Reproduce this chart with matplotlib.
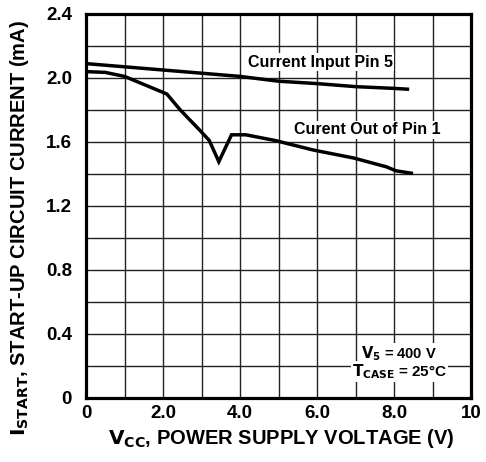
import matplotlib
matplotlib.use("Agg")
import matplotlib.pyplot as plt

plt.rcParams['font.family'] = ['Liberation Sans', 'DejaVu Sans']
plt.rcParams['font.weight'] = 'bold'
plt.rcParams['mathtext.default'] = 'bf'

# current into pin 5 (upper curve)
pin5_v = [0.0, 1.0, 2.0, 3.0, 4.0, 5.0, 6.0, 7.0, 8.0, 8.35]
pin5_i = [2.09, 2.07, 2.05, 2.03, 2.01, 1.98, 1.965, 1.946, 1.935, 1.93]

# current out of pin 1 (lower curve)
pin1_v = [0.0, 0.5, 1.0, 1.5, 2.1, 2.45, 2.95, 3.2, 3.45, 3.78, 4.15, 4.9, 5.9, 6.95, 7.8, 8.05, 8.45]
pin1_i = [2.04, 2.035, 2.01, 1.96, 1.90, 1.80, 1.675, 1.61, 1.477, 1.645, 1.645, 1.61, 1.55, 1.50, 1.445, 1.42, 1.405]

xticks = [0, 2, 4, 6, 8, 10]
xticklabels = ['0', '2.0', '4.0', '6.0', '8.0', '10']
yticks = [0, 0.4, 0.8, 1.2, 1.6, 2.0, 2.4]
yticklabels = ['0', '0.4', '0.8', '1.2', '1.6', '2.0', '2.4']

fig = plt.figure(figsize=(4.86, 4.62), dpi=100)
ax = fig.add_axes([86 / 486, 1 - 398 / 462, 385 / 486, 384 / 462])

ax.plot(pin5_v, pin5_i, color='black', lw=2.5, solid_joinstyle='miter')
ax.plot(pin1_v, pin1_i, color='black', lw=2.5, solid_joinstyle='miter')

ax.set_xlim(0, 10)
ax.set_ylim(0, 2.4)
ax.set_xticks(range(0, 11), minor=True)
ax.set_yticks([i * 0.2 for i in range(13)], minor=True)
ax.set_xticks(xticks)
ax.set_xticklabels(xticklabels, fontsize=13.5, fontweight='bold')
ax.set_yticks(yticks)
ax.set_yticklabels(yticklabels, fontsize=13.5, fontweight='bold')
ax.tick_params(which='both', length=0)
ax.tick_params(axis='y', pad=10)
ax.tick_params(axis='x', pad=5)
ax.grid(which='both', color='#222222', lw=1.0)
for s in ax.spines.values():
    s.set_linewidth(2.3)

ax.text(6.08, 2.10, 'Current Input Pin 5', fontsize=11.5, fontweight='bold',
        ha='center', va='center', bbox=dict(fc='white', ec='none', pad=1))
ax.text(7.3, 1.675, 'Curent Out of Pin 1', fontsize=11.5, fontweight='bold',
        ha='center', va='center', bbox=dict(fc='white', ec='none', pad=1))
ax.text(8.12, 0.28, '$\\mathbf{V_5}$ = 400 V', fontsize=10.5, fontweight='bold',
        ha='center', va='center', bbox=dict(fc='white', ec='none', pad=0.5))
ax.text(8.15, 0.165, '$\\mathbf{T_{CASE}}$ = 25°C', fontsize=11, fontweight='bold',
        ha='center', va='center', bbox=dict(fc='white', ec='none', pad=0.5))

fig.text(281 / 486, 1 - 438 / 462, '$\\mathbf{V_{CC}}$, POWER SUPPLY VOLTAGE (V)',
         fontsize=14.5, fontweight='bold', ha='center', va='center')
fig.text(20 / 486, 1 - 228 / 462, '$\\mathbf{I_{START}}$, START-UP CIRCUIT CURRENT (mA)',
         fontsize=14.5, fontweight='bold', ha='center', va='center', rotation=90)
fig.text(480 / 486, 1 + 6 / 462, 'Start-Up Current versus Power Supply Voltage',
         fontsize=14, fontweight='bold', ha='right', va='baseline')

fig.savefig('out.png', dpi=100)
